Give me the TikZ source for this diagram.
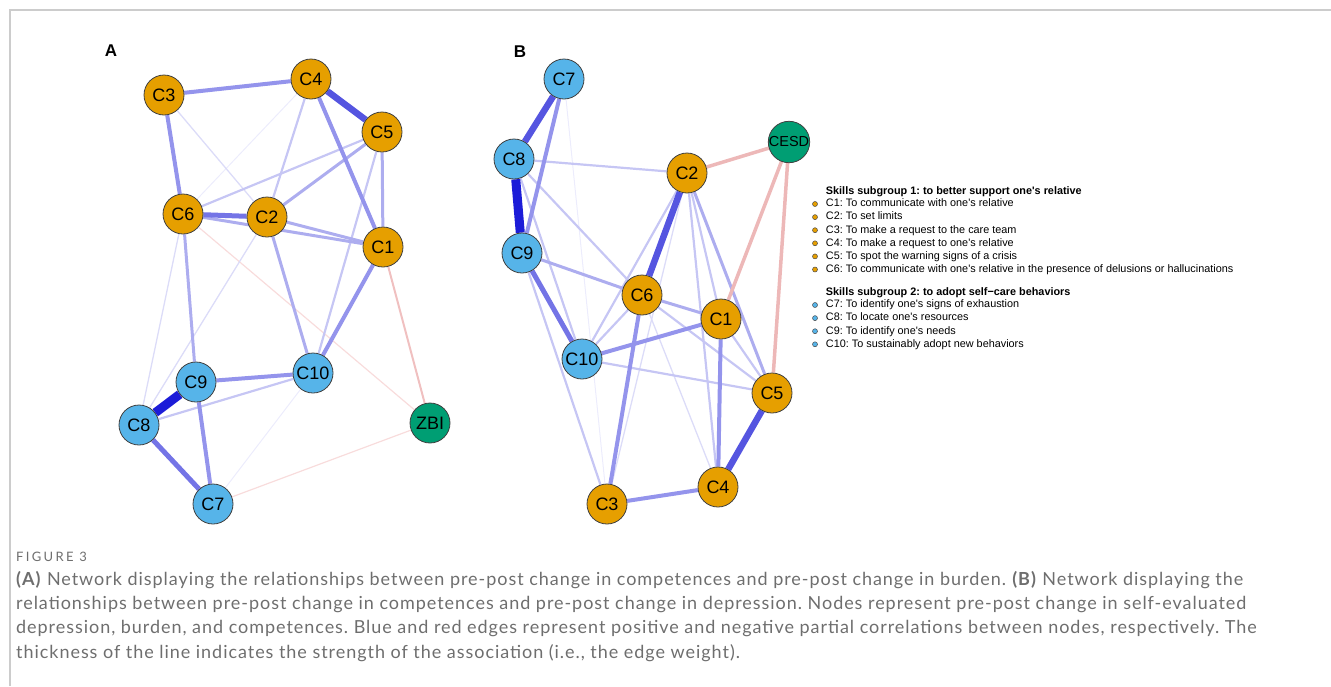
\documentclass[tikz,border=0pt]{standalone}
\usepackage{fontspec}
\setmainfont{Liberation Sans}
\newfontfamily\captionfont{Lato}
\usepackage{tikz}
\usetikzlibrary{positioning, backgrounds}

\definecolor{skillone}{HTML}{E69F00}
\definecolor{skilltwo}{HTML}{56B4E9}
\definecolor{outcome}{HTML}{009E73}
\definecolor{captiongray}{HTML}{6E6E6E}
\definecolor{framegray}{HTML}{CCCCCC}
\definecolor{poszero}{HTML}{ECECFC}
\definecolor{posone}{HTML}{DCDCF8}
\definecolor{postwo}{HTML}{C6C6F4}
\definecolor{posthree}{HTML}{ADADEF}
\definecolor{posfour}{HTML}{9494EC}
\definecolor{posfive}{HTML}{7474E6}
\definecolor{possix}{HTML}{5555E0}
\definecolor{posseven}{HTML}{1C1CD8}
\definecolor{negone}{HTML}{F8DCDC}
\definecolor{negtwo}{HTML}{F0C0C0}
\definecolor{negthree}{HTML}{EDB8B8}

\newcommand{\apos}{\textquotesingle}
\frenchspacing

\begin{document}
\begin{tikzpicture}[x=1pt, y=-1pt]

\tikzstyle{relative} = [circle, minimum size=40pt, inner sep=0pt, draw=black!75, line width=0.8pt, fill=skillone, font=\fontsize{18}{18}\selectfont]
\tikzstyle{selfcare} = [circle, minimum size=40pt, inner sep=0pt, draw=black!75, line width=0.8pt, fill=skilltwo, font=\fontsize{18}{18}\selectfont]
\tikzstyle{score} = [circle, minimum size=40pt, inner sep=0pt, draw=black!75, line width=0.8pt, fill=outcome, font=\fontsize{18}{18}\selectfont]
\tikzstyle{panel} = [inner sep=0pt, font=\bfseries\fontsize{17}{17}\selectfont]
\tikzstyle{pos0} = [line width=1pt, draw=poszero]
\tikzstyle{pos1} = [line width=1.3pt, draw=posone]
\tikzstyle{pos2} = [line width=2.2pt, draw=postwo]
\tikzstyle{pos3} = [line width=3pt, draw=posthree]
\tikzstyle{pos4} = [line width=4pt, draw=posfour]
\tikzstyle{pos5} = [line width=5pt, draw=posfive]
\tikzstyle{pos6} = [line width=6.5pt, draw=possix]
\tikzstyle{pos7} = [line width=9pt, draw=posseven]
\tikzstyle{neg1} = [line width=1.2pt, draw=negone]
\tikzstyle{neg2} = [line width=2pt, draw=negtwo]
\tikzstyle{neg3} = [line width=3.5pt, draw=negthree]
\tikzstyle{dotone} = [circle, minimum size=5pt, inner sep=0pt, draw=black!70, line width=0.5pt, fill=skillone]
\tikzstyle{dottwo} = [circle, minimum size=5pt, inner sep=0pt, draw=black!70, line width=0.5pt, fill=skilltwo]
\tikzstyle{legend} = [inner sep=0pt, text height=7.8pt, text depth=2.2pt, font=\fontsize{10.85}{11}\selectfont]
\tikzstyle{legendtitle} = [inner sep=0pt, text height=7.8pt, text depth=2.2pt, font=\bfseries\fontsize{10.85}{11}\selectfont]
\tikzstyle{caption} = [inner sep=0pt, anchor=west, text=captiongray, font=\captionfont\addfontfeatures{LetterSpace=5.3}\fontsize{18}{18}\selectfont]

\useasboundingbox (0,0) rectangle (1331,686);

% Frame
\draw[framegray, line width=1.2pt] (10,686) -- (10,10) -- (1331,10);

% Panel A nodes
\node (panelA) [panel] at (111,51) {A};
\node (a3) [relative] at (164,95) {C3};
\node (a4) [relative] at (311,79) {C4};
\node (a5) [relative] at (382,132) {C5};
\node (a6) [relative] at (183,214) {C6};
\node (a2) [relative] at (267,217) {C2};
\node (a1) [relative] at (383,247) {C1};
\node (a9) [selfcare] at (196,382) {C9};
\node (a10) [selfcare] at (313,373) {C10};
\node (a8) [selfcare] at (139,425) {C8};
\node (a7) [selfcare] at (213,504) {C7};
\node (azbi) [score] at (430,423) {ZBI};

% Panel B nodes
\node (panelB) [panel] at (520,52) {B};
\node (b7) [selfcare] at (564,79) {C7};
\node (b8) [selfcare] at (514,159) {C8};
\node (b9) [selfcare] at (522,253) {C9};
\node (b10) [selfcare] at (582,359) {C10};
\node (b2) [relative] at (687,173) {C2};
\node (b6) [relative] at (642,295) {C6};
\node (b1) [relative] at (721,319) {C1};
\node (b5) [relative] at (772,393) {C5};
\node (b4) [relative] at (718,487) {C4};
\node (b3) [relative] at (607,504) {C3};
\node (bcesd) [score, font=\fontsize{14.5}{14.5}\selectfont] at (789,142) {CESD};

% Connect nodes (panel A)
\begin{scope}[on background layer]
\draw[pos0] (a4) -- (a6);
\draw[pos0] (a10) -- (a7);
\draw[neg1] (a6) -- (azbi);
\draw[neg1] (a7) -- (azbi);
\draw[neg2] (a1) -- (azbi);
\draw[pos1] (a3) -- (a2);
\draw[pos1] (a6) -- (a8);
\draw[pos1] (a2) -- (a8);
\draw[pos2] (a4) -- (a2);
\draw[pos2] (a5) -- (a6);
\draw[pos2] (a5) -- (a10);
\draw[pos2] (a8) -- (a10);
\draw[pos3] (a5) -- (a2);
\draw[pos3] (a5) -- (a1);
\draw[pos3] (a6) -- (a1);
\draw[pos3] (a2) -- (a1);
\draw[pos3] (a6) -- (a9);
\draw[pos3] (a2) -- (a10);
\draw[pos4] (a3) -- (a4);
\draw[pos4] (a4) -- (a1);
\draw[pos4] (a3) -- (a6);
\draw[pos4] (a1) -- (a10);
\draw[pos4] (a9) -- (a10);
\draw[pos4] (a9) -- (a7);
\draw[pos5] (a6) -- (a2);
\draw[pos5] (a8) -- (a7);
\draw[pos6] (a4) -- (a5);
\draw[pos7] (a9) -- (a8);
\end{scope}

% Connect nodes (panel B)
\begin{scope}[on background layer]
\draw[pos0] (b7) -- (b3);
\draw[pos1] (b2) -- (b3);
\draw[pos1] (b6) -- (b4);
\draw[pos2] (b8) -- (b2);
\draw[pos2] (b8) -- (b6);
\draw[pos2] (b8) -- (b10);
\draw[pos2] (b9) -- (b3);
\draw[pos2] (b2) -- (b10);
\draw[pos2] (b2) -- (b1);
\draw[pos2] (b2) -- (b4);
\draw[pos2] (b6) -- (b5);
\draw[pos2] (b6) -- (b10);
\draw[pos2] (b1) -- (b5);
\draw[pos2] (b10) -- (b5);
\draw[pos3] (b9) -- (b6);
\draw[pos3] (b2) -- (b5);
\draw[pos3] (b6) -- (b1);
\draw[neg3] (b2) -- (bcesd);
\draw[neg3] (bcesd) -- (b1);
\draw[neg3] (bcesd) -- (b5);
\draw[pos4] (b7) -- (b9);
\draw[pos4] (b6) -- (b3);
\draw[pos4] (b1) -- (b10);
\draw[pos4] (b1) -- (b4);
\draw[pos4] (b3) -- (b4);
\draw[pos5] (b9) -- (b10);
\draw[pos6] (b7) -- (b8);
\draw[pos6] (b2) -- (b6);
\draw[pos6] (b5) -- (b4);
\draw[pos7] (b8) -- (b9);
\end{scope}

% Legend
\node (d1) [dotone] at (815,204) {};
\node (d2) [dotone, below=7.6pt of d1] {};
\node (d3) [dotone, below=7.6pt of d2] {};
\node (d4) [dotone, below=7.6pt of d3] {};
\node (d5) [dotone, below=7.6pt of d4] {};
\node (d6) [dotone, below=7.6pt of d5] {};
\node (t1) [legend, right=8pt of d1] {C1: To communicate with one\apos s relative};
\node (t2) [legend, right=8pt of d2] {C2: To set limits};
\node (t3) [legend, right=8pt of d3] {C3: To make a request to the care team};
\node (t4) [legend, right=8pt of d4] {C4: To make a request to one\apos s relative};
\node (t5) [legend, right=8pt of d5] {C5: To spot the warning signs of a crisis};
\node (t6) [legend, right=8pt of d6] {C6: To communicate with one\apos s relative in the presence of delusions or hallucinations};
\node (title1) [legendtitle, above=2pt of t1.north west, anchor=south west] {Skills subgroup 1: to better support one\apos s relative};

\node (d7) [dottwo] at (815,305) {};
\node (d8) [dottwo, below=7.6pt of d7] {};
\node (d9) [dottwo, below=7.6pt of d8] {};
\node (d10) [dottwo, below=7.6pt of d9] {};
\node (t7) [legend, right=8pt of d7] {C7: To identify one\apos s signs of exhaustion};
\node (t8) [legend, right=8pt of d8] {C8: To locate one\apos s resources};
\node (t9) [legend, right=8pt of d9] {C9: To identify one\apos s needs};
\node (t10) [legend, right=8pt of d10] {C10: To sustainably adopt new behaviors};
\node (title2) [legendtitle, above=2pt of t7.north west, anchor=south west] {Skills subgroup 2: to adopt self−care behaviors};

% Caption
\node (fig) [caption, font=\captionfont\addfontfeatures{LetterSpace=18}\fontsize{13}{13}\selectfont] at (16,557) {FIGURE 3};
\node (cap1) [caption] at (16,580) {\textbf{(A)} Network displaying the relationships between pre-post change in competences and pre-post change in burden. \textbf{(B)} Network displaying the};
\node (cap2) [caption] at (16,605) {relationships between pre-post change in competences and pre-post change in depression. Nodes represent pre-post change in self-evaluated};
\node (cap3) [caption] at (16,629) {depression, burden, and competences. Blue and red edges represent positive and negative partial correlations between nodes, respectively. The};
\node (cap4) [caption] at (16,653) {thickness of the line indicates the strength of the association (i.e., the edge weight).};

\end{tikzpicture}
\end{document}
